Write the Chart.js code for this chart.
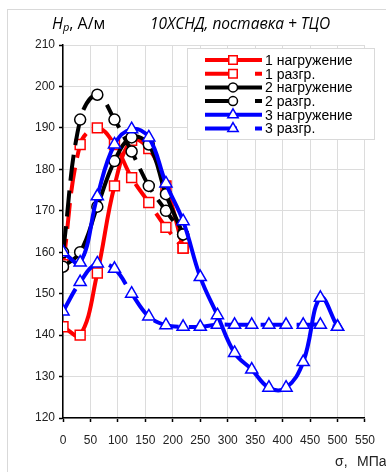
<!DOCTYPE html>
<html><head><meta charset="utf-8">
<script src="https://cdn.jsdelivr.net/npm/chart.js@4"></script>
<style>html,body{margin:0;padding:0;background:#fff}#wrap{width:386px;height:472px;position:relative}</style>
</head><body><div id="wrap"><canvas id="c" width="386" height="472"></canvas></div>
<script>
// ---- data ----
const stress = [0,31.25,62.5,93.75,125,156.25,187.5,218.75,250,281.25,312.5,343.75,375,406.25,437.5,468.75,500];
const load1   = [142,140,155,176,187,185,176,161];
const unload1 = [157,186,190,186,178,172,166,161];
const load2   = [156.5,160,171,182,187.7,186,174,164.3];
const unload2 = [160,192,198,192,184.3,176,170,164.3];
const load3   = [160,157.5,173.5,186,189.7,187.7,176.6,167.5,154,144.8,135.7,131.7,127.3,127.3,133.5,149,142];
const unload3 = [145.7,152.8,157.3,156,150,144.5,142.4,142,142,142.5,142.5,142.5,142.5,142.5,142.5,142.5,142];
const seriesLabels = ['1 нагружение','1 разгр.','2 нагружение','2 разгр.','3 нагружение','3 разгр.'];
const xTicks = [0,50,100,150,200,250,300,350,400,450,500,550];
const yTicks = [120,130,140,150,160,170,180,190,200,210];
const titleLeft = 'H';
const titleSub = 'р';
const titleUnit = ', А/м';
const titleRight = '10ХСНД, поставка + ТЦО';
const xAxisTitleA = 'σ,';
const xAxisTitleB = 'МПа';

const pts = arr => arr.map((v,i)=>({x:stress[i], y:v}));
const styles = [
  {c:'#ff0000', p:'rect', r:7, dash:[], order:2},
  {c:'#ff0000', p:'rect', r:7, dash:[26,10], order:2},
  {c:'#000000', p:'circle', r:5.5, dash:[], order:1},
  {c:'#000000', p:'circle', r:5.5, dash:[26,10], order:1},
  {c:'#0000ff', p:'triangle', r:7, dash:[], order:0},
  {c:'#0000ff', p:'triangle', r:7, dash:[26,10], order:0},
];
const dataArr = [load1, unload1, load2, unload2, load3, unload3];
const datasets = dataArr.map((d,i)=>({
  label: seriesLabels[i], data: pts(d),
  borderColor: styles[i].c, borderWidth: 4, borderDash: styles[i].dash,
  tension: 0.4, fill:false,
  pointStyle: styles[i].p, pointRadius: styles[i].r,
  pointBackgroundColor:'#fff', pointBorderColor: styles[i].c, pointBorderWidth:1.5,
  order: styles[i].order
}));

function drawMarker(ctx, style, x, y, r, color){
  ctx.save(); ctx.setLineDash([]); ctx.lineWidth=1.5; ctx.strokeStyle=color; ctx.fillStyle='#fff';
  ctx.beginPath();
  if(style==='rect'){ const s=Math.SQRT1_2*r; ctx.rect(x-s,y-s,2*s,2*s); }
  else if(style==='circle'){ ctx.arc(x,y,r,0,Math.PI*2); }
  else { ctx.moveTo(x, y-r); ctx.lineTo(x+Math.sin(2*Math.PI/3)*r, y+r*0.5); ctx.lineTo(x-Math.sin(2*Math.PI/3)*r, y+r*0.5); ctx.closePath(); }
  ctx.fill(); ctx.stroke(); ctx.restore();
}

const decor = {
  id:'decor',
  beforeDraw(chart){
    const ctx=chart.ctx; ctx.save();
    ctx.fillStyle='#fff'; ctx.fillRect(0,0,chart.width,chart.height);
    ctx.strokeStyle='#d9d9d9'; ctx.lineWidth=1; ctx.strokeRect(7.5,9.5,500,500);
    ctx.restore();
  },
  afterDraw(chart){
    const ctx=chart.ctx; ctx.save();
    // title
    ctx.fillStyle='#000'; ctx.textBaseline='alphabetic';
    ctx.font='italic 16px "Open Sans", "Liberation Sans", sans-serif';
    ctx.fillText(titleLeft, 52, 29);
    let w=ctx.measureText(titleLeft).width;
    ctx.font='italic 11px "Open Sans", "Liberation Sans", sans-serif';
    ctx.fillText(titleSub, 52+w, 31);
    let w2=ctx.measureText(titleSub).width;
    ctx.font='16px "Open Sans", "Liberation Sans", sans-serif';
    ctx.fillText(titleUnit, 52+w+w2, 29);
    ctx.font='italic 15.5px "Open Sans", "Liberation Sans", sans-serif';
    ctx.fillText(titleRight, 150, 29);
    // x axis title
    ctx.font='14px "Liberation Sans", sans-serif';
    ctx.fillStyle='#222';
    ctx.fillText(xAxisTitleA, 335, 466);
    ctx.fillText(xAxisTitleB, 357, 466);
    // legend
    ctx.fillStyle='#fff'; ctx.fillRect(187.5,48.5,187,91);
    ctx.strokeStyle='#d9d9d9'; ctx.lineWidth=1; ctx.strokeRect(187.5,48.5,187,91);
    ctx.font='14px "Liberation Sans", Arial, sans-serif'; ctx.textBaseline='middle';
    for(let i=0;i<6;i++){
      const y=60+i*13.7; const st=styles[i];
      ctx.strokeStyle=st.c; ctx.lineWidth=4; ctx.setLineDash(st.dash.length?[32,18]:[]);
      ctx.beginPath(); ctx.moveTo(205,y); ctx.lineTo(262,y); ctx.stroke();
      ctx.setLineDash([]);
      drawMarker(ctx, st.p, 233, y, st.p==='circle'?4.5:6, st.c);
      ctx.fillStyle='#000'; ctx.fillText(seriesLabels[i], 265, y+1);
    }
    ctx.restore();
  }
};

new Chart(document.getElementById('c'), {
  type:'line',
  data:{datasets},
  options:{
    responsive:false, animation:false, devicePixelRatio:1,
    layout:{padding:{left:0,right:11,top:45,bottom:0}},
    plugins:{legend:{display:false}, title:{display:false}, tooltip:{enabled:false}},
    scales:{
      x:{type:'linear', min:0, max:550,
        afterBuildTicks: s=>{ s.ticks = xTicks.map(v=>({value:v})); },
        afterFit: s=>{ s.height = 54; },
        grid:{color:'#dcdcdc', lineWidth:1, tickColor:'#000', tickLength:4, tickWidth:1.5},
        border:{color:'#000', width:1.5},
        ticks:{color:'#222', font:{family:'"Liberation Sans", Arial, sans-serif', size:12}, padding:11, maxRotation:0, autoSkip:false}
      },
      y:{type:'linear', min:120, max:210,
        afterBuildTicks: s=>{ s.ticks = yTicks.map(v=>({value:v})); },
        afterFit: s=>{ s.width = 63; },
        grid:{color:'#dcdcdc', lineWidth:1, tickColor:'#000', tickLength:4, tickWidth:1.5},
        border:{color:'#000', width:1.5},
        ticks:{color:'#222', font:{family:'"Liberation Sans", Arial, sans-serif', size:12}, padding:4}
      }
    }
  },
  plugins:[decor]
});
</script></body></html>
